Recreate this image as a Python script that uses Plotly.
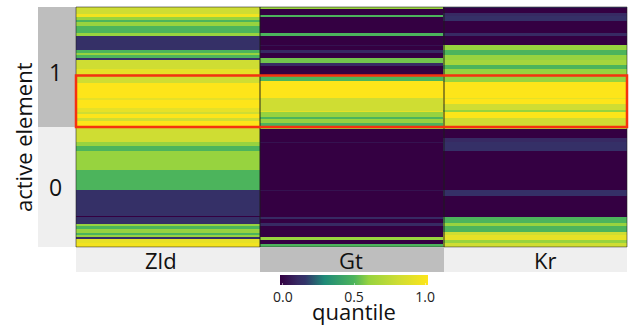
import numpy as np
import plotly.graph_objects as go

W, H = 635, 327
columns = ["Zld", "Gt", "Kr"]
groups = ["1", "0"]

zld_values = [.8,.95,.6,.5,.6,.5,.6,.15,.5,.6,.5,.15,.8,.9,.8,1,.9,1,.9,.8,1,.8,1,.8,.6,.5,.6,.5,.15,0,.15,.6,.5,.6,.5,.6,.15,.9,.95]
zld_rows = [7,3,3,2,4,7,3,14,3,2,3,2,9,5,9,15,2,8,4,2,4,3,5,16,4,5,19,20,26,1,7,2,3,4,2,2,2,4,4]
gt_values = [.6,0,.5,0,.5,0,.05,0,.12,0,.55,.12,0,.5,1,.8,.9,.6,.5,.6,.5,.6,0,.05,0,.05,0,.12,0,.12,0,.6,0,.5]
gt_rows = [2,6,2,16,3,9,1,4,3,5,5,3,10,5,17,13,1,5,2,4,4,2,13,1,47,1,26,2,4,3,11,3,4,3]
kr_values = [.12,0,.12,.15,0,.12,0,.6,.5,.6,.65,.5,.6,1,.9,1,.8,.6,1,.8,.7,0,.12,.15,0,.15,0,.5,.6,.5,.8,.9,.6,.8]
kr_rows = [1,5,3,5,12,3,9,5,5,5,5,4,13,16,1,5,6,2,6,8,3,9,4,9,39,6,21,6,3,6,3,5,3,4]

colorscale = [[0, "#340042"], [.12, "#372a63"], [.17, "#33346a"], [.3, "#1f8a78"],
              [.5, "#4cb45c"], [.6, "#97d33f"], [.8, "#cfdd33"], [1, "#fde51a"]]

z = np.column_stack([np.repeat(zld_values, zld_rows),
                     np.repeat(gt_values, gt_rows),
                     np.repeat(kr_values, kr_rows)])
n = z.shape[0]

def px(x): return x / W
def py(y): return 1 - y / H

L, R, T, B = 76, 627, 7, 247
M = (T + B) / 2
xedges = [76, 260, 444, 627]
FONT = "Open Sans"

fig = go.Figure(go.Heatmap(
    z=z, x=columns, y=np.arange(n), zmin=0, zmax=1, colorscale=colorscale,
    hoverinfo="skip",
    colorbar=dict(orientation="h", x=px(354), xanchor="center", y=py(275), yanchor="top",
                  xref="paper", yref="paper",
                  len=148, lenmode="pixels", thickness=10, thicknessmode="pixels",
                  outlinewidth=0, tickvals=[0.02, .5, .98], ticktext=["0.0", "0.5", "1.0"],
                  ticks="inside", ticklen=2, tickcolor="rgba(255,255,255,.5)",
                  tickfont=dict(size=14, family=FONT, color="#222"),
                  xpad=0, ypad=0)))

shapes = []
def rect(x0, y0, x1, y1, fill="rgba(0,0,0,0)", line=None, w=0, layer="below"):
    shapes.append(dict(type="rect", xref="paper", yref="paper", x0=px(x0), x1=px(x1),
                       y0=py(y1), y1=py(y0), fillcolor=fill, layer=layer,
                       line=dict(color=line or "rgba(0,0,0,0)", width=w)))

rect(38, T, L, M, "#bebebe")
rect(38, M, L, B, "#efefef")
rect(xedges[0], 248, xedges[1], 272, "#efefef")
rect(xedges[1], 248, xedges[2], 272, "#bebebe")
rect(xedges[2], 248, xedges[3], 272, "#efefef")
border = "rgba(30,30,30,.55)"
for i in range(3):
    rect(xedges[i], T, xedges[i + 1], M, line=border, w=1, layer="above")
    rect(xedges[i], M, xedges[i + 1], B, line=border, w=1, layer="above")
rect(L, 75.5, R, 127, line="#f5320f", w=2.5, layer="above")

def label(text, x, y, size, angle=0):
    return dict(text=text, x=px(x), y=py(y), xref="paper", yref="paper", showarrow=False,
                font=dict(size=size, family=FONT, color="#111"),
                textangle=angle, xanchor="center", yanchor="middle")

annotations = [label("active element", 23, 137, 22, -90),
               label(groups[0], 55, 72, 23), label(groups[1], 55, 187, 23),
               label("quantile", 354, 311, 22)]
label_x = [161, 351, 545]
for c, x in zip(columns, label_x):
    annotations.append(label(c, x, 260, 22))

fig.update_layout(
    width=W, height=H, autosize=False, paper_bgcolor="white", plot_bgcolor="white",
    margin=dict(l=0, r=0, t=0, b=0, autoexpand=False),
    xaxis=dict(domain=[px(L), px(R)], showticklabels=False, ticks="", showgrid=False, zeroline=False),
    yaxis=dict(domain=[py(B), py(T)], range=[n - .5, -.5], showticklabels=False, ticks="",
               showgrid=False, zeroline=False),
    shapes=shapes, annotations=annotations, showlegend=False)

fig.write_html("out.html", config={"displayModeBar": False},
               post_script="document.body.style.margin='0';")
